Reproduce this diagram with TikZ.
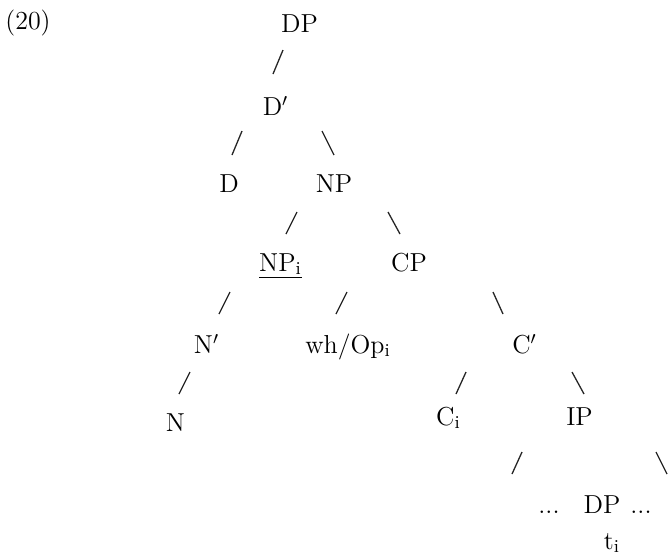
\documentclass[tikz,border=0pt]{standalone}
\begin{document}
\begin{tikzpicture}[
    x=0.5pt, y=-0.5pt,
    cat/.style={anchor=base, inner sep=0pt, font=\fontsize{13}{15}\selectfont},
    branch/.style={line width=0.65pt, color=black!85}
]
    \useasboundingbox (0,0) rectangle (668,554);

    % example number
    \node[cat] (ex) at (28,29) {(20)};

    % categories, row by row
    \node[cat] (dp)   at (299.5,32)  {DP};
    \node[cat] (dbar) at (275.5,115) {D$'$};
    \node[cat] (d)    at (229,192)   {D};
    \node[cat] (np)   at (334,192)   {NP};
    \node[cat] (npi)  at (280.5,271) {\underline{NP\textsubscript{i}}};
    \node[cat] (cp)   at (409,271)   {CP};
    \node[cat] (nbar) at (206.5,353) {N$'$};
    \node[cat] (whop) at (348,353)   {wh/Op\textsubscript{i}};
    \node[cat] (cbar) at (524.5,353) {C$'$};
    \node[cat] (n)    at (175.5,431) {N};
    \node[cat] (ci)   at (448.5,425) {C\textsubscript{i}};
    \node[cat] (ip)   at (579.5,425) {IP};
    \node[cat] (ldots) at (549,513)  {...};
    \node[cat] (dpt)  at (602,513)   {DP};
    \node[cat] (rdots) at (641,513)  {...};
    \node[cat] (ti)   at (612,549)   {t\textsubscript{i}};
    \coordinate (ipr) at (667,474);

    % branches
    \draw[branch] ([shift={(-16.5,18)}]dp.base) -- ([shift={(-2.5,-41)}]dbar.base);
    \draw[branch] ([shift={(-33.5,16)}]dbar.base) -- ([shift={(3,-37)}]d.base);
    \draw[branch] ([shift={(46.5,16)}]dbar.base) -- ([shift={(0,-37)}]np.base);
    \draw[branch] ([shift={(-37,20)}]np.base) -- ([shift={(5.5,-37)}]npi.base);
    \draw[branch] ([shift={(54,20)}]np.base) -- ([shift={(-9,-37)}]cp.base);
    \draw[branch] ([shift={(-50.5,21)}]npi.base) -- ([shift={(12.5,-39)}]nbar.base);
    \draw[branch] ([shift={(-62,21)}]cp.base) -- ([shift={(-12,-39)}]whop.base);
    \draw[branch] ([shift={(84,21)}]cp.base) -- ([shift={(-21.5,-39)}]cbar.base);
    \draw[branch] ([shift={(-16.5,19)}]nbar.base) -- ([shift={(3.5,-37)}]n.base);
    \draw[branch] ([shift={(-58.5,19)}]cbar.base) -- ([shift={(7.5,-31)}]ci.base);
    \draw[branch] ([shift={(47.5,19)}]cbar.base) -- ([shift={(4.5,-31)}]ip.base);
    \draw[branch] ([shift={(-57.5,27)}]ip.base) -- ([shift={(-37,-39)}]ldots.base);
    \draw[branch] ([shift={(76.5,27)}]ip.base) -- (ipr);
\end{tikzpicture}
\end{document}
